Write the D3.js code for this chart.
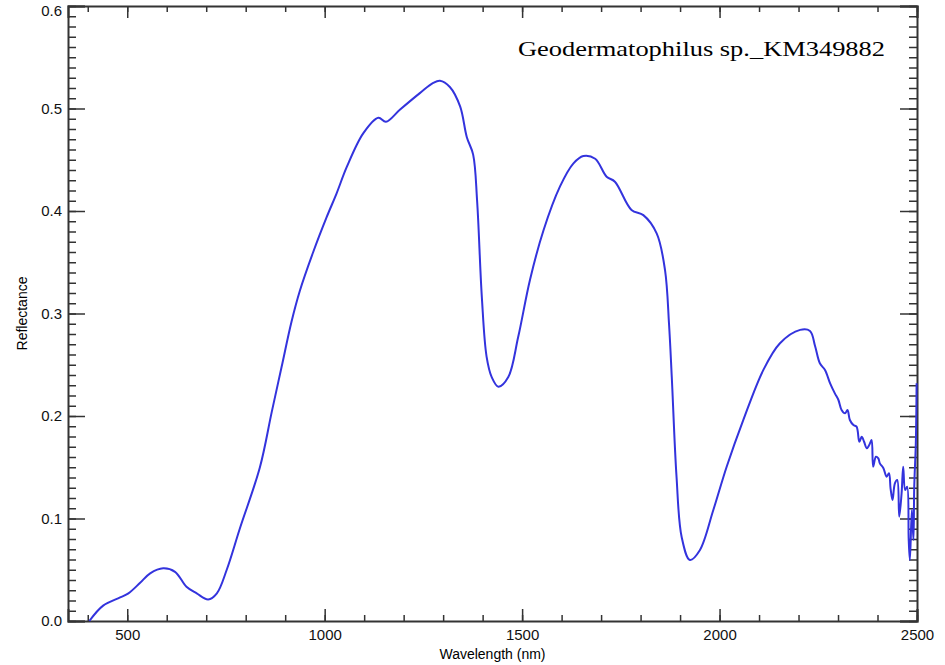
<!DOCTYPE html>
<html>
<head>
<meta charset="utf-8">
<script src="https://cdn.jsdelivr.net/npm/d3@7"></script>
<style>
  body { margin: 0; background: #fff; }
  .axis path, .axis line { stroke: #333; }
  .axis text { font-family: "Liberation Sans", Arial, sans-serif; font-size: 15px; fill: #111; }
</style>
</head>
<body>
<div id="spectrum"></div>
<script>
// Spectrum
var wavelength = [404, 439, 482, 503, 532, 558, 591, 621, 650, 676, 705, 727, 752, 785, 836, 866, 891, 916, 937,
    971, 1005, 1030, 1056, 1098, 1136, 1155, 1191, 1241, 1275, 1292, 1317, 1343, 1360, 1376, 1386, 1398, 1410,
    1423, 1440, 1465, 1490, 1520, 1554, 1596, 1630, 1655, 1685, 1714, 1735, 1777, 1807, 1841, 1862, 1872, 1879,
    1891, 1904, 1925, 1950, 1984, 2018, 2060, 2111, 2153, 2204, 2229, 2242,
    2254, 2267, 2280, 2292, 2301, 2309, 2318, 2324, 2330, 2339, 2347, 2354, 2360, 2366, 2373, 2379, 2385, 2389,
    2396, 2402, 2406, 2415, 2423, 2429, 2433, 2438, 2444, 2450, 2455, 2461, 2465, 2470, 2475, 2479, 2482, 2487,
    2491, 2493, 2497, 2499];
var reflectance = [0.000, 0.015, 0.023, 0.027, 0.037, 0.0465, 0.0514, 0.048, 0.0335, 0.027, 0.021, 0.027, 0.050,
    0.090, 0.150, 0.204, 0.248, 0.292, 0.322, 0.360, 0.394, 0.417, 0.443, 0.476, 0.491, 0.487, 0.499, 0.515, 0.525,
    0.527, 0.521, 0.502, 0.472, 0.455, 0.410, 0.316, 0.258, 0.238, 0.2286, 0.238, 0.277, 0.333, 0.381, 0.424,
    0.4465, 0.4537, 0.451, 0.4335, 0.4286, 0.401, 0.396, 0.378, 0.342, 0.290, 0.238, 0.141, 0.082, 0.0595, 0.069,
    0.108, 0.1505, 0.196, 0.245, 0.271, 0.284, 0.283, 0.268,
    0.2514, 0.2449, 0.2319, 0.2221, 0.2156, 0.2059, 0.2026, 0.2059, 0.1961, 0.1912, 0.1896, 0.1749, 0.1798,
    0.1749, 0.1685, 0.1717, 0.1766, 0.1505, 0.1603, 0.1587, 0.1538, 0.1490, 0.1408, 0.1441, 0.1295, 0.1180,
    0.1343, 0.1376, 0.1018, 0.1246, 0.1505, 0.1278, 0.1310, 0.0790, 0.0595, 0.1083, 0.0790, 0.1310, 0.1734, 0.2319];
var xMajor = [500, 1000, 1500, 2000, 2500];
var yMajor = [0.0, 0.1, 0.2, 0.3, 0.4, 0.5, 0.6];
var title = "Geodermatophilus sp._KM349882";

var data = wavelength.map(function (w, i) { return {w: w, r: reflectance[i]}; });

// Dimensions and margins
var margin = {top: 6, right: 28, bottom: 44, left: 68},
    width = 945 - margin.left - margin.right,
    height = 665 - margin.top - margin.bottom;

var svg = d3.select("#spectrum")
    .append("svg")
    .attr("width", 945)
    .attr("height", 665)
    .append("g")
    .attr("transform", "translate(" + margin.left + "," + margin.top + ")");

var x = d3.scaleLinear().domain([350, 2500]).range([0, width]);
var y = d3.scaleLinear().domain([0, 0.6]).range([height, 0]);

var xMinor = d3.range(400, 2501, 100);
var yMinor = d3.range(0, 61).map(function (d) { return d / 100; });

// Minor ticks on all four sides
function minorAxis(axis, vals, len, tr) {
    svg.append("g").attr("class", "axis").attr("transform", tr)
        .call(axis.tickValues(vals).tickSize(-len).tickFormat(""))
        .call(function (g) { g.select(".domain").remove(); })
        .selectAll("line").attr("stroke-width", 1.5);
}
minorAxis(d3.axisBottom(x), xMinor, 6, "translate(0," + height + ")");
minorAxis(d3.axisTop(x), xMinor, 6, "translate(0,0)");
minorAxis(d3.axisLeft(y), yMinor, 8, "translate(0,0)");
minorAxis(d3.axisRight(y), yMinor, 8, "translate(" + width + ",0)");

// Major ticks with labels
var xAxis = svg.append("g").attr("class", "axis")
    .attr("transform", "translate(0," + height + ")")
    .call(d3.axisBottom(x).tickValues(xMajor).tickSize(-12).tickPadding(8).tickFormat(d3.format("d")));
var yAxis = svg.append("g").attr("class", "axis")
    .call(d3.axisLeft(y).tickValues(yMajor).tickSize(-17).tickPadding(6).tickFormat(d3.format(".1f")));
svg.append("g").attr("class", "axis")
    .call(d3.axisTop(x).tickValues(xMajor).tickSize(-12).tickFormat(""));
svg.append("g").attr("class", "axis")
    .attr("transform", "translate(" + width + ",0)")
    .call(d3.axisRight(y).tickValues(yMajor).tickSize(-17).tickFormat(""));

svg.selectAll(".axis line").attr("stroke-width", 1.5);
svg.selectAll(".axis .domain").attr("stroke-width", 2);
yAxis.selectAll(".tick").filter(function (d) { return d === 0.6; }).select("text").attr("dy", "0.6em");

// Spectrum line
svg.append("path")
    .datum(data)
    .attr("fill", "none")
    .attr("stroke", "#3333dd")
    .attr("stroke-width", 2)
    .attr("stroke-linejoin", "round")
    .attr("d", d3.line()
        .x(function (d) { return x(d.w); })
        .y(function (d) { return y(d.r); })
        .curve(d3.curveCatmullRom.alpha(0.5)));

// Labels
svg.append("text")
    .attr("x", width / 2)
    .attr("y", height + 38)
    .attr("text-anchor", "middle")
    .style("font-family", "Liberation Sans, Arial, sans-serif")
    .style("font-size", "14px")
    .text("Wavelength (nm)");

svg.append("text")
    .attr("transform", "translate(" + (-41) + "," + (height / 2) + ") rotate(-90)")
    .attr("text-anchor", "middle")
    .style("font-family", "Liberation Sans, Arial, sans-serif")
    .style("font-size", "14px")
    .text("Reflectance");

svg.append("text")
    .attr("x", 450)
    .attr("y", 50)
    .attr("textLength", 367)
    .attr("lengthAdjust", "spacingAndGlyphs")
    .style("font-family", "Liberation Serif, 'DejaVu Serif', serif")
    .style("font-size", "22px")
    .text(title);
</script>
</body>
</html>
